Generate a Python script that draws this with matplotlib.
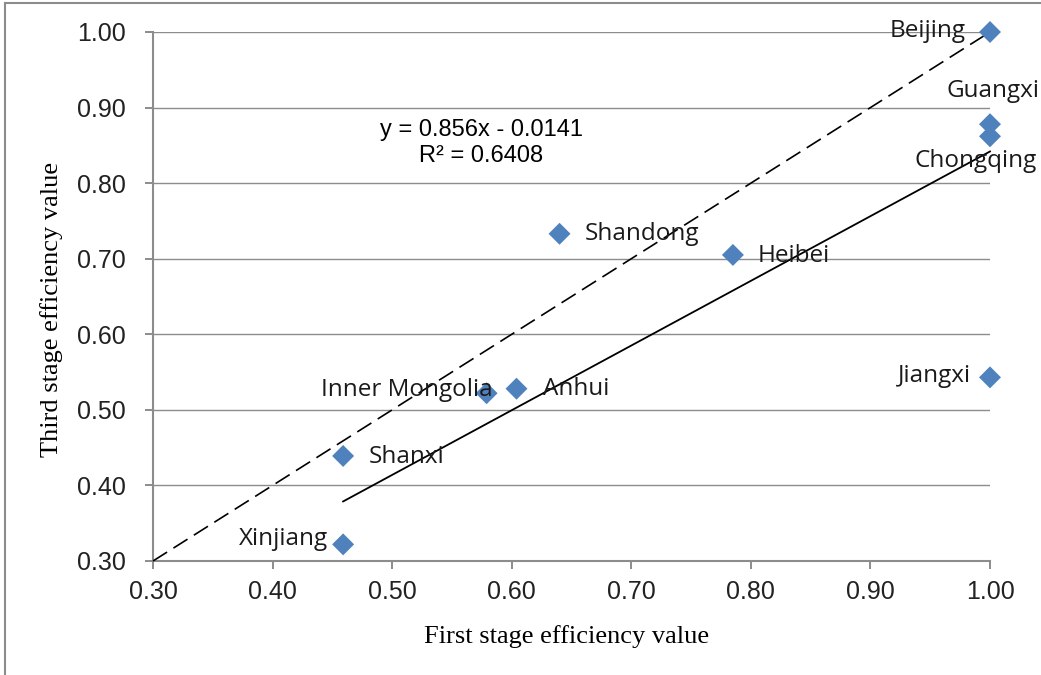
import matplotlib
matplotlib.use("Agg")
import matplotlib.pyplot as plt
from matplotlib.lines import Line2D
import numpy as np

# ---- data ----
regions = ["Beijing", "Guangxi", "Chongqing", "Shandong", "Heibei",
           "Inner Mongolia", "Anhui", "Shanxi", "Xinjiang", "Jiangxi"]
first_stage = [1.00, 1.00, 1.00, 0.640, 0.785, 0.579, 0.604, 0.459, 0.459, 1.00]
third_stage = [1.00, 0.878, 0.862, 0.733, 0.705, 0.522, 0.528, 0.439, 0.322, 0.543]
trend_slope = 0.856
trend_intercept = -0.0141
trend_r2 = 0.6408
x_ticks = [0.30, 0.40, 0.50, 0.60, 0.70, 0.80, 0.90, 1.00]
y_ticks = [0.30, 0.40, 0.50, 0.60, 0.70, 0.80, 0.90, 1.00]
x_label = "First stage efficiency value"
y_label = "Third stage efficiency value"

# label placement (pixel offsets, alignment)
label_pos = {
    "Beijing": (-24, 1, "right", "center"),
    "Guangxi": (3, 33, "center", "center"),
    "Chongqing": (-14, -25, "center", "center"),
    "Shandong": (25, 0, "left", "center"),
    "Heibei": (25, -1, "left", "center"),
    "Inner Mongolia": (6, 3, "right", "center"),
    "Anhui": (27, 0, "left", "center"),
    "Shanxi": (26, -1, "left", "center"),
    "Xinjiang": (-15, 5, "right", "center"),
    "Jiangxi": (-19, 1, "right", "center"),
}

W, H = 1041, 675
fig = plt.figure(figsize=(W / 100, H / 100), dpi=100)
ax = fig.add_axes([153 / W, 1 - 561 / H, (990 - 153) / W, (561 - 32) / H])

gray = "#8c8c8c"

# 45-degree reference line
ref = np.array([x_ticks[0], x_ticks[-1]])
ax.plot(ref, ref, color="black", lw=1.2, linestyle=(0, (10, 4.5)), zorder=3,
        clip_on=False)

# trend line
tx = np.array([min(first_stage), max(first_stage)])
ax.plot(tx, trend_slope * tx + trend_intercept, color="black", lw=1.3, zorder=3,
        clip_on=False)

ax.scatter(first_stage, third_stage, marker="D", s=125, color="#4F81BD",
           edgecolors="none", zorder=4, clip_on=False)

for name, xv, yv in zip(regions, first_stage, third_stage):
    dx, dy, ha, va = label_pos[name]
    ax.annotate(name, (xv, yv), xytext=(dx, dy), textcoords="offset pixels",
                ha=ha, va=va, fontsize=17.5, family="Open Sans",
                color="#1a1a1a", zorder=5, annotation_clip=False)

sign = "-" if trend_intercept < 0 else "+"
ax.text(0.392, 0.790,
        f"y = {trend_slope:g}x {sign} {abs(trend_intercept):g}\nR² = {trend_r2:g}",
        transform=ax.transAxes, ha="center", va="center", fontsize=17,
        family="Liberation Sans", linespacing=1.2, color="black")

ax.set_xlim(x_ticks[0], x_ticks[-1])
ax.set_ylim(y_ticks[0], y_ticks[-1])
ax.set_xticks(x_ticks)
ax.set_yticks(y_ticks)
ax.set_xticklabels([f"{v:.2f}" for v in x_ticks])
ax.set_yticklabels([f"{v:.2f}" for v in y_ticks])
for lab in ax.get_xticklabels() + ax.get_yticklabels():
    lab.set_family("Liberation Sans")
    lab.set_fontsize(18)
    lab.set_color("#222222")

ax.tick_params(axis="both", direction="out", length=5.5, width=1.4, color=gray)
ax.tick_params(axis="y", pad=14)
ax.tick_params(axis="x", pad=8)

ax.grid(axis="y", color=gray, lw=1.0)
ax.set_axisbelow(True)
for s in ["top", "right"]:
    ax.spines[s].set_visible(False)
for s in ["left", "bottom"]:
    ax.spines[s].set_color(gray)
    ax.spines[s].set_linewidth(1.5)

fig.text(567 / W, 1 - 637 / H, x_label, ha="center", va="center",
         fontsize=19, family="Liberation Serif")
fig.text(52 / W, 1 - 309 / H, y_label, ha="center", va="center",
         rotation=90, fontsize=19, family="Liberation Serif")

# chart frame (left and top edges)
fig.add_artist(Line2D([5 / W, 5 / W], [0, 1 - 3 / H], color=gray, lw=1.5,
                      transform=fig.transFigure))
fig.add_artist(Line2D([5 / W, 1], [1 - 3 / H, 1 - 3 / H], color=gray, lw=1.5,
                      transform=fig.transFigure))

fig.savefig("out.png", dpi=100)
